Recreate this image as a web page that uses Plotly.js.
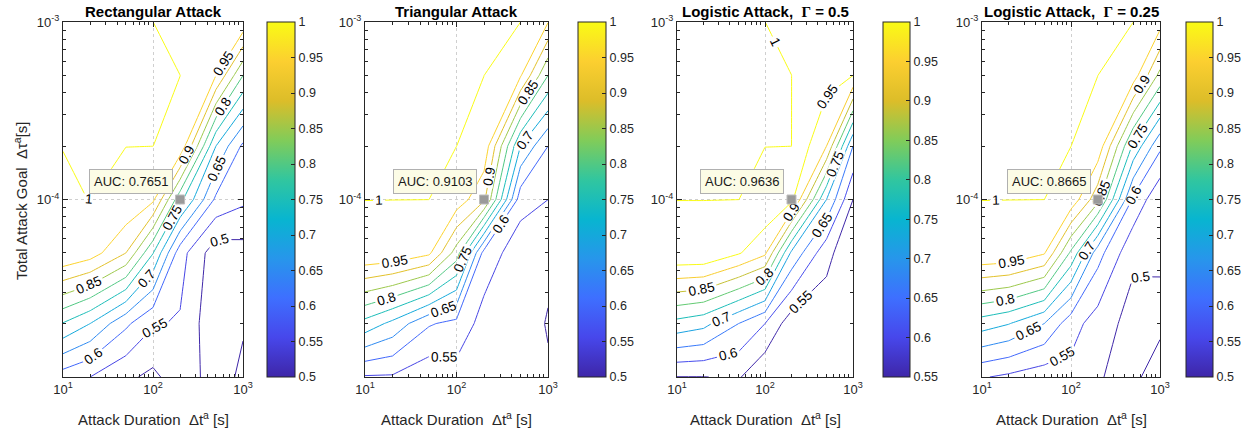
<!DOCTYPE html>
<html><head><meta charset="utf-8">
<script src="https://cdn.plot.ly/plotly-3.0.1.min.js"></script>
<style>html,body{margin:0;padding:0;background:#fff}</style>
</head><body><div id="chart" style="width:1251px;height:435px"></div>
<script>
// ---- data ----
const attackDuration = [10, 20, 50, 100, 200, 500, 1000];          // x grid [s]
const attackGoal = [1e-5, 2e-5, 5e-5, 1e-4, 2e-4, 5e-4, 1e-3];     // y grid [s]
// AUC grids: rows follow attackGoal (bottom to top), columns follow attackDuration
const aucRect = [
  [0.575, 0.55, 0.51, 0.488, 0.53, 0.477, 0.51],
  [0.747, 0.70, 0.61, 0.555, 0.545, 0.46, 0.495],
  [0.998, 0.975, 0.90, 0.752, 0.57, 0.47, 0.48],
  [0.999, 1, 0.995, 0.96, 0.7651, 0.59, 0.56],
  [1, 1, 1, 1, 0.99, 0.70, 0.59],
  [1, 1, 1, 1, 1, 0.95, 0.80],
  [1, 1, 1, 1, 0.985, 0.99, 0.985]
];
const aucTri = [
  [0.545, 0.544, 0.516, 0.53, 0.51, 0.51, 0.505],
  [0.732, 0.686, 0.605, 0.585, 0.53, 0.52, 0.497],
  [0.995, 0.99, 0.96, 0.827, 0.58, 0.52, 0.51],
  [1, 1, 1, 0.98, 0.9103, 0.57, 0.55],
  [1, 1, 1, 1, 0.985, 0.70, 0.60],
  [1, 1, 1, 1, 1, 0.955, 0.80],
  [1, 1, 1, 1, 1, 1, 0.952]
];
const aucLog05 = [
  [0.549, 0.549, 0.555, 0.507, 0.50, 0.50, 0.50],
  [0.733, 0.715, 0.65, 0.60, 0.52, 0.52, 0.50],
  [0.995, 0.995, 0.955, 0.91, 0.69, 0.565, 0.51],
  [1, 1, 1, 0.995, 0.9636, 0.70, 0.55],
  [1, 1, 1, 1, 1, 0.90, 0.65],
  [1, 1, 1, 1, 1, 0.97, 0.95],
  [1, 1, 1, 1, 0.99, 0.985, 0.97]
];
const aucLog025 = [
  [0.554, 0.54, 0.521, 0.534, 0.502, 0.49, 0.523],
  [0.724, 0.702, 0.65, 0.57, 0.527, 0.48, 0.49],
  [0.995, 0.99, 0.955, 0.79, 0.62, 0.51, 0.505],
  [1, 1, 1, 0.985, 0.8665, 0.59, 0.51],
  [1, 1, 1, 1, 0.985, 0.74, 0.61],
  [1, 1, 1, 1, 1, 0.975, 0.835],
  [1, 1, 1, 1, 1, 1, 0.97]
];
const panelTitles = [
  '<b>Rectangular Attack</b>',
  '<b>Triangular Attack</b>',
  '<b>Logistic Attack,\u00a0 <span style="font-family:\'Liberation Serif\',serif">\u0393</span> = 0.5</b>',
  '<b>Logistic Attack,\u00a0 <span style="font-family:\'Liberation Serif\',serif">\u0393</span> = 0.25</b>'
];
const colorMin = [0.5, 0.5, 0.55, 0.5];
const colorMax = 1;
const levelStep = 0.05;
const tipDuration = [200, 200, 200, 200];
const tipGoal = [1e-4, 1e-4, 1e-4, 1e-4];
const tipAUC = [0.7651, 0.9103, 0.9636, 0.8665];
const xTickVals = [10, 100, 1000];
const xTickText = ['10<sup>1</sup>', '10<sup>2</sup>', '10<sup>3</sup>'];
const xMinorTicks = [20, 30, 40, 50, 60, 70, 80, 90, 200, 300, 400, 500, 600, 700, 800, 900];
const yTickVals = [1e-4, 1e-3];
const yTickText = ['10<sup>-4</sup>', '10<sup>-3</sup>'];
const yMinorTicks = [2e-5, 3e-5, 4e-5, 5e-5, 6e-5, 7e-5, 8e-5, 9e-5, 2e-4, 3e-4, 4e-4, 5e-4, 6e-4, 7e-4, 8e-4, 9e-4];
const xTitle = 'Attack Duration\u00a0 \u0394t<sup>a</sup> [s]';
const yTitle = 'Total Attack Goal\u00a0 \u0394\u03c4<sup>a</sup>[s]';

// ---- style / layout ----
const parula = [
  [0/9, 'rgb(62,38,168)'], [1/9, 'rgb(71,71,235)'], [2/9, 'rgb(62,111,255)'],
  [3/9, 'rgb(39,150,235)'], [4/9, 'rgb(8,181,208)'], [5/9, 'rgb(49,198,159)'],
  [6/9, 'rgb(129,204,89)'], [7/9, 'rgb(220,189,41)'], [8/9, 'rgb(252,207,48)'],
  [1, 'rgb(249,251,21)']
];
const W = 1251, H = 435;
const plotLeft = [63, 365, 677, 982], plotRight = [243, 548, 853, 1160];
const cbLeft = [267, 578, 883, 1186], cbThick = [28, 28, 27, 27];
const plotTop = 22, plotBottom = 377;
const ink = '#262626';
const FONT = 'Liberation Sans, Arial, Helvetica, sans-serif';
const grids = [aucRect, aucTri, aucLog05, aucLog025];

const traces = [];
const layout = {
  width: W, height: H, margin: {l: 0, r: 0, t: 0, b: 0},
  paper_bgcolor: '#fff', plot_bgcolor: '#fff', showlegend: false,
  font: {family: FONT, color: ink}, annotations: []
};
const yDom = [1 - plotBottom / H, 1 - plotTop / H];

function axisBase(vals, text, minorVals) {
  return {
    type: 'log', tickmode: 'array', tickvals: vals, ticktext: text,
    ticks: 'inside', ticklen: 5, tickcolor: ink, showline: true, linecolor: ink, linewidth: 1,
    mirror: 'allticks', showgrid: true, gridcolor: '#cfcfcf', griddash: 'dot', gridwidth: 1,
    zeroline: false, tickfont: {size: 13, color: ink, family: FONT}, automargin: false,
    minor: {tickmode: 'array', tickvals: minorVals, ticks: 'inside', ticklen: 3,
            tickcolor: ink, showgrid: false},
    fixedrange: true
  };
}

for (let i = 0; i < 4; i++) {
  const sfx = i === 0 ? '' : String(i + 1);
  const xa = 'x' + sfx, ya = 'y' + sfx;
  const ox = 'x' + (i + 5), oy = 'y' + (i + 5);
  layout['xaxis' + sfx] = Object.assign(axisBase(xTickVals, xTickText, xMinorTicks),
    {range: [1, 3], domain: [plotLeft[i] / W, plotRight[i] / W], anchor: ya});
  layout['yaxis' + sfx] = Object.assign(axisBase(yTickVals, yTickText, yMinorTicks),
    {range: [-5, -3], domain: yDom, anchor: xa});
  // mirrored tick axes (top / right)
  layout['xaxis' + (i + 5)] = Object.assign(axisBase(xTickVals, xTickText, xMinorTicks),
    {range: [1, 3], overlaying: xa, side: 'top', anchor: oy, showticklabels: false,
     showgrid: false, mirror: false});
  layout['yaxis' + (i + 5)] = Object.assign(axisBase(yTickVals, yTickText, yMinorTicks),
    {range: [-5, -3], overlaying: ya, side: 'right', anchor: ox, showticklabels: false,
     showgrid: false, mirror: false});
  traces.push({type: 'scatter', x: [], y: [], xaxis: ox, yaxis: oy, hoverinfo: 'skip'});

  const lo = colorMin[i];
  // colorbar carrier (invisible)
  traces.push({
    type: 'heatmap', x: attackDuration, y: attackGoal, z: grids[i], xaxis: xa, yaxis: ya,
    opacity: 0, colorscale: parula, zmin: lo, zmax: colorMax, zauto: false, hoverinfo: 'skip',
    showscale: true,
    colorbar: {
      x: cbLeft[i] / W, xanchor: 'left', xpad: 0, ypad: 0,
      y: yDom[0], yanchor: 'bottom', len: yDom[1] - yDom[0], lenmode: 'fraction',
      thickness: cbThick[i], thicknessmode: 'pixels',
      outlinewidth: 1, outlinecolor: ink, borderwidth: 0,
      ticks: 'inside', ticklen: 4, tickcolor: ink,
      tickmode: 'linear', tick0: lo, dtick: levelStep, tickformat: '.2~f',
      tickfont: {size: 12.5, color: ink, family: FONT}
    }
  });
  traces.push({
    type: 'contour', x: attackDuration, y: attackGoal, z: grids[i], xaxis: xa, yaxis: ya,
    colorscale: parula, zmin: lo, zmax: colorMax, zauto: false, showscale: false,
    autocontour: false,
    contours: {
      start: lo - 0.0001, end: colorMax, size: levelStep, coloring: 'lines',
      showlabels: true, labelformat: '.2~f',
      labelfont: {size: 13.5, color: '#000', family: FONT}
    },
    line: {width: 1, smoothing: 0}, hoverinfo: 'skip'
  });
  traces.push({
    type: 'scatter', mode: 'markers', x: [tipDuration[i]], y: [tipGoal[i]], xaxis: xa, yaxis: ya,
    marker: {symbol: 'square', size: 9, color: '#9a9a9a', line: {width: 1, color: '#bdbdbd'}},
    hoverinfo: 'skip'
  });
  layout.annotations.push({
    xref: xa, yref: ya, x: Math.log10(tipDuration[i]), y: Math.log10(tipGoal[i]),
    text: 'AUC: ' + tipAUC[i].toFixed(4), showarrow: false,
    xanchor: 'right', yanchor: 'bottom', xshift: -7, yshift: 6,
    bgcolor: '#fcfce6', bordercolor: '#b0b0b0', borderwidth: 1, borderpad: 4,
    font: {size: 13, color: '#1a1a1a', family: FONT}
  });
  const cx = (plotLeft[i] + plotRight[i]) / 2;
  layout.annotations.push({
    xref: 'paper', yref: 'paper', x: cx / W, y: 1 - 11 / H, xanchor: 'center', yanchor: 'middle',
    text: panelTitles[i], showarrow: false, font: {size: 15, color: '#000', family: FONT}
  });
  layout.annotations.push({
    xref: 'paper', yref: 'paper', x: cx / W, y: 1 - 418 / H, xanchor: 'center', yanchor: 'middle',
    text: xTitle, showarrow: false, font: {size: 15, color: ink, family: FONT}
  });
}
layout.annotations.push({
  xref: 'paper', yref: 'paper', x: 20 / W, y: 1 - 201 / H, xanchor: 'center', yanchor: 'middle',
  text: yTitle, textangle: -90, showarrow: false, font: {size: 15, color: ink, family: FONT}
});

Plotly.newPlot('chart', traces, layout, {displayModeBar: false, staticPlot: true});
</script></body></html>
